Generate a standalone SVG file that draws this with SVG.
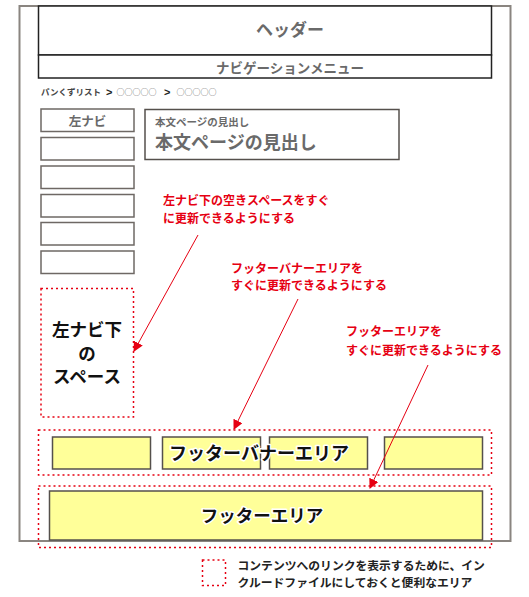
<svg xmlns="http://www.w3.org/2000/svg" width="529" height="597" viewBox="0 0 529 597">
<defs>
<marker id="ah" markerWidth="10" markerHeight="10" refX="9" refY="5" orient="auto" markerUnits="userSpaceOnUse">
<path d="M0,0 L10,5 L0,10 Z" fill="#e60012"/>
</marker>
<style>
text{font-family:"Noto Sans CJK JP","Noto Sans",sans-serif;font-weight:bold}
.box{fill:#fff;stroke:#6e6864;stroke-width:1.5}
.ybox{fill:#ffff99;stroke:#55504c;stroke-width:1.5}
.dot{fill:none;stroke:#e60012;stroke-width:1.5;stroke-dasharray:2 3}
.red{fill:#e60012;font-size:12px}
.halo{fill:#111;stroke:#fff;stroke-width:3;paint-order:stroke;stroke-linejoin:round}
.gray{fill:#6a6a6a}
.bc{font-size:8.5px;fill:#444}
.chev{font-family:"Liberation Sans",sans-serif;font-size:11px;fill:#222}
.circ{font-size:8px;fill:#555;font-weight:normal}
.conn{stroke:#e60012;stroke-width:1;fill:none;marker-end:url(#ah)}
</style>
</defs>
<rect width="529" height="597" fill="#fff"/>
<g id="frame"><rect x="19.5" y="6" width="491" height="535" fill="none" stroke="#8a8580" stroke-width="2"/></g>
<g id="header"><rect x="38.5" y="6" width="453" height="49" fill="#fff" stroke="#222" stroke-width="1.5"/><text x="290" y="36" text-anchor="middle" class="gray" font-size="17">ヘッダー</text></g>
<g id="nav"><rect x="38.5" y="55" width="453" height="23" fill="#fff" stroke="#222" stroke-width="1.5"/><text x="290" y="72.5" text-anchor="middle" class="gray" font-size="13.5">ナビゲーションメニュー</text></g>
<g id="breadcrumb">
<text class="bc" x="41" y="95">パンくずリスト</text>
<text class="chev" x="106" y="95.5">&gt;</text>
<text class="circ" x="116.5" y="95">○○○○○</text>
<text class="chev" x="164" y="95.5">&gt;</text>
<text class="circ" x="176.5" y="95">○○○○○</text>
</g>
<g id="leftnav">
<rect class="box" x="41" y="109" width="93" height="22.5"/><text x="87.5" y="125.5" text-anchor="middle" class="gray" font-size="12.5">左ナビ</text>
<rect class="box" x="41" y="137.5" width="93" height="22.5"/>
<rect class="box" x="41" y="166" width="93" height="22.5"/>
<rect class="box" x="41" y="194.5" width="93" height="22.5"/>
<rect class="box" x="41" y="222.5" width="93" height="22.5"/>
<rect class="box" x="41" y="251" width="93" height="22.5"/>
</g>
<g id="heading"><rect x="145" y="109.5" width="254" height="50" fill="#fff" stroke="#55504c" stroke-width="1.5"/>
<text x="155" y="126" class="gray" font-size="10.5">本文ページの見出し</text>
<text x="155" y="148.5" class="gray" font-size="18">本文ページの見出し</text></g>
<g id="leftspace"><rect class="dot" x="41" y="288.5" width="92.5" height="128.5"/>
<text text-anchor="middle" font-size="17.5" fill="#111"><tspan x="87" y="336">左ナビ下</tspan><tspan x="87" y="359.5">の</tspan><tspan x="87" y="383">スペース</tspan></text></g>
<g id="bannerarea"><rect class="dot" x="38.5" y="430" width="453" height="45"/>
<rect class="ybox" x="52.5" y="437" width="98" height="32"/>
<rect class="ybox" x="162.5" y="437" width="98" height="32"/>
<rect class="ybox" x="269.5" y="437" width="98" height="32"/>
<rect class="ybox" x="384.5" y="437" width="98" height="32"/>
<text x="259" y="460" text-anchor="middle" font-size="18" class="halo">フッターバナーエリア</text></g>
<g id="footer"><rect class="dot" x="38.5" y="486" width="453" height="61.5"/>
<rect class="ybox" x="49.5" y="491" width="433" height="49"/>
<text x="262" y="522" text-anchor="middle" font-size="17.5" class="halo">フッターエリア</text></g>
<g id="legend"><rect class="dot" x="202.5" y="560" width="23" height="25.5"/>
<text x="237.5" y="570" font-size="11.8" fill="#222">コンテンツへのリンクを表示するために、イン</text>
<text x="237.5" y="587" font-size="11.8" fill="#222">クルードファイルにしておくと便利なエリア</text></g>
<g id="notes">
<text class="red" x="163" y="205">左ナビ下の空きスペースをすぐ</text>
<text class="red" x="163" y="223">に更新できるようにする</text>
<text class="red" x="231" y="273">フッターバナーエリアを</text>
<text class="red" x="231" y="290">すぐに更新できるようにする</text>
<text class="red" x="346" y="336">フッターエリアを</text>
<text class="red" x="346" y="355">すぐに更新できるようにする</text>
</g>
<g id="connectors">
<line class="conn" x1="198" y1="235" x2="134" y2="351"/>
<line class="conn" x1="298" y1="299" x2="234" y2="429"/>
<line class="conn" x1="428" y1="365" x2="370" y2="488"/>
</g>
</svg>
